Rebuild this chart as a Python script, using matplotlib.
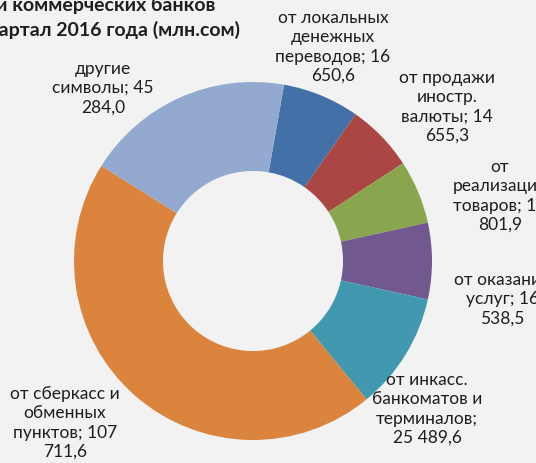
import matplotlib.pyplot as plt

# данные (млн.сом), по часовой стрелке от 12 часов
categories = [
    "от локальных\nденежных\nпереводов",
    "от продажи\nиностр.\nвалюты",
    "от\nреализации\nтоваров",
    "от оказания\nуслуг",
    "от инкасс.\nбанкоматов и\nтерминалов",
    "от сберкасс и\nобменных\nпунктов",
    "другие\nсимволы",
]
values = [16650.6, 14655.3, 13801.9, 16538.5, 25489.6, 107711.6, 45284.0]
label_texts = [
    "от локальных\nденежных\nпереводов; 16\n650,6",
    "от продажи\nиностр.\nвалюты; 14\n655,3",
    "от\nреализации\nтоваров; 13\n801,9",
    "от оказания\nуслуг; 16\n538,5",
    "от инкасс.\nбанкоматов и\nтерминалов;\n25 489,6",
    "от сберкасс и\nобменных\nпунктов; 107\n711,6",
    "другие\nсимволы; 45\n284,0",
]
colors = ["#4470A8", "#AA4643", "#89A54E", "#71588F", "#4198AF", "#DB843D", "#93A9CF"]

W, H = 536, 464
BG = "#F2F2F2"
plt.rcParams["font.family"] = ["Lato", "DejaVu Sans"]

fig = plt.figure(figsize=(W / 100, H / 100), dpi=100, facecolor=BG)
ax = fig.add_axes([0, 0, 1, 1])
ax.set_facecolor(BG)

cx, cy, r = 253, 262, 179
ax.pie(values, colors=colors, startangle=80, counterclock=False,
       radius=1, wedgeprops=dict(width=0.497, linewidth=0))
ax.set_xlim(-cx / r, (W - cx) / r)
ax.set_ylim(-(H - cy) / r, cy / r)
ax.set_aspect("equal")
ax.axis("off")

# позиции подписей в пикселях (центр блока)
label_pos = [(333, 47), (447, 107), (500, 196), (502, 299), (427, 409), (65, 423), (103, 88)]
for txt, (x, y) in zip(label_texts, label_pos):
    fig.text(x / W, 1 - y / H, txt, ha="center", va="center", fontsize=12.5,
             color="#1E1E1E", linespacing=1.25)

# заголовок частично обрезан краем рисунка, как в оригинале
fig.text(215 / W, 1 - 5 / H, "и коммерческих банков", ha="right", va="center",
         fontsize=14, fontweight="bold", color="#1E1E1E")
fig.text(240 / W, 1 - 30 / H, "квартал 2016 года (млн.сом)", ha="right", va="center",
         fontsize=14, fontweight="bold", color="#1E1E1E")

fig.savefig("out.png", dpi=100, facecolor=BG)
